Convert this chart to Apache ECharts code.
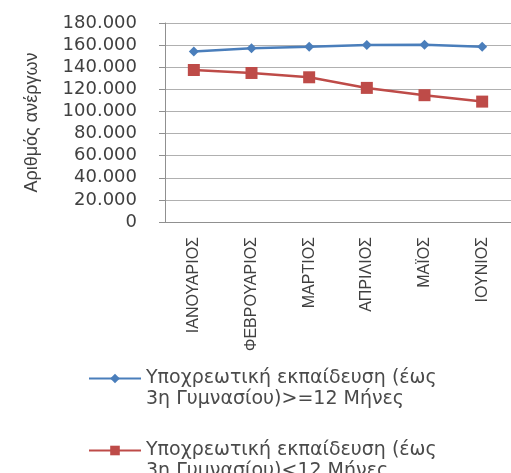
<!DOCTYPE html>
<html><head><meta charset="utf-8">
<script src="https://cdn.jsdelivr.net/npm/echarts@6/dist/echarts.min.js"></script>
<style>html,body{margin:0;padding:0;background:#fff}#c{width:511px;height:473px}</style>
</head><body><div id="c"></div>
<script>
const categories = ['ΙΑΝΟΥΑΡΙΟΣ','ΦΕΒΡΟΥΑΡΙΟΣ','ΜΑΡΤΙΟΣ','ΑΠΡΙΛΙΟΣ','ΜΑΪΟΣ','ΙΟΥΝΙΟΣ'];
const seriesNames = ['Υποχρεωτική εκπαίδευση (έως 3η Γυμνασίου)>=12 Μήνες','Υποχρεωτική εκπαίδευση (έως 3η Γυμνασίου)<12 Μήνες'];
const longTerm = [154300, 157100, 158500, 160200, 160300, 158500];
const shortTerm = [137500, 134800, 130900, 121300, 114700, 108900];
const yAxisName = 'Αριθμός ανέργων';

const chart = echarts.init(document.getElementById('c'));
const fmt = v => String(v).replace(/\B(?=(\d{3})+(?!\d))/g, '.');
const legendBase = {
  orient: 'vertical', left: 83, itemWidth: 52, itemHeight: 12, itemGap: 0,
  formatter: n => '\n' + n.replace(' (έως ', ' (έως\n'),
  textStyle: {fontFamily: 'DejaVu Sans', fontSize: 19, color: '#4a4a4a', lineHeight: 21}
};
chart.setOption({
  animation: false,
  grid: {left: 165, top: 23, bottom: 251, right: -6},
  xAxis: {
    type: 'category', data: categories, boundaryGap: true,
    axisLine: {lineStyle: {color: '#909090', width: 1}},
    axisTick: {length: 5, lineStyle: {color: '#909090'}},
    axisLabel: {rotate: 90, margin: 15, fontFamily: 'Liberation Sans', fontSize: 16, color: '#404040'}
  },
  yAxis: {
    type: 'value', min: 0, max: 180000, interval: 20000,
    name: yAxisName, nameLocation: 'middle', nameGap: 124, nameRotate: 90,
    nameTextStyle: {fontFamily: 'Liberation Sans', fontSize: 18, color: '#404040'},
    axisLine: {show: true, lineStyle: {color: '#909090'}},
    axisTick: {show: true, length: 6, lineStyle: {color: '#909090'}},
    splitLine: {lineStyle: {color: '#b0b0b0'}},
    axisLabel: {margin: 28, formatter: fmt, fontFamily: 'DejaVu Sans', fontSize: 18, color: '#404040'}
  },
  legend: [
    Object.assign({}, legendBase, {top: 342, data: [seriesNames[0]]}),
    Object.assign({}, legendBase, {top: 414, data: [seriesNames[1]]})
  ],
  series: [
    {name: seriesNames[0], type: 'line', data: longTerm, symbol: 'diamond', symbolSize: 10,
     lineStyle: {color: '#4a7ebb', width: 2.5}, itemStyle: {color: '#4a7ebb'}},
    {name: seriesNames[1], type: 'line', data: shortTerm, symbol: 'rect', symbolSize: 12,
     lineStyle: {color: '#be4b48', width: 2.5}, itemStyle: {color: '#be4b48'}}
  ]
});
</script></body></html>
